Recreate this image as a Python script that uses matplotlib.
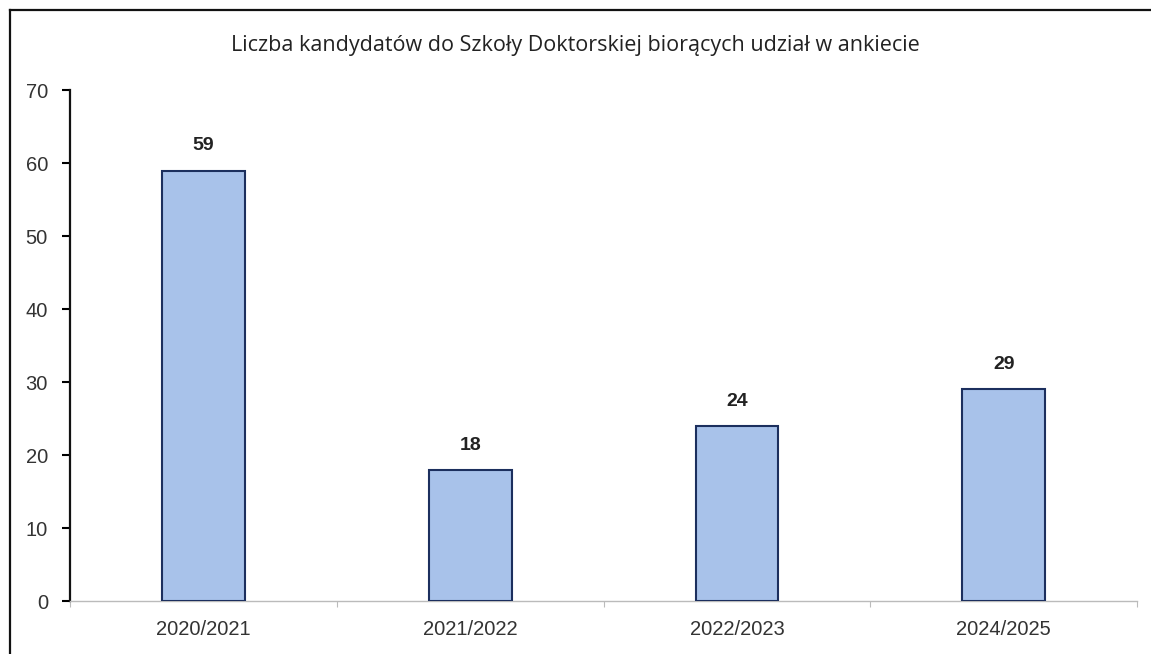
import numpy as np
import matplotlib.pyplot as plt
from matplotlib.lines import Line2D

# dane
lata = ['2020/2021', '2021/2022', '2022/2023', '2024/2025']
liczba = [59, 18, 24, 29]

fig = plt.figure(figsize=(11.51, 6.54), dpi=100)
ax = fig.add_axes([0.061, 0.081, 0.927, 0.781])

x = np.arange(len(lata))
ax.bar(x, liczba, width=0.31, color='#a8c2ea', edgecolor='#1c2f5e', linewidth=1.5, zorder=3)

for xi, v in zip(x, liczba):
    ax.text(xi, v + 2.2, str(v), ha='center', va='bottom', fontsize=14,
            fontweight='bold', family='Liberation Sans', color='#222222')

ax.set_xlim(-0.5, len(lata) - 0.5)
ax.set_ylim(0, 70)
ax.set_yticks(range(0, 71, 10))
ax.set_xticks(x)
ax.set_xticklabels(lata, family='Liberation Sans', fontsize=14.5, color='#333333')
ax.tick_params(axis='x', length=0, pad=14)
ax.tick_params(axis='y', length=6, width=1.5, direction='out', labelsize=14.5, pad=10,
               labelcolor='#333333')
for lbl in ax.get_yticklabels():
    lbl.set_family('Liberation Sans')

# male znaczniki na granicach kategorii
ax.set_xticks(np.arange(-0.5, len(lata), 1), minor=True)
ax.tick_params(axis='x', which='minor', length=4, color='#bbbbbb', width=0.8)

ax.spines['top'].set_visible(False)
ax.spines['right'].set_visible(False)
ax.spines['left'].set_linewidth(1.6)
ax.spines['left'].set_color('#111111')
ax.spines['bottom'].set_color('#bbbbbb')
ax.spines['bottom'].set_linewidth(1.0)
ax.spines['bottom'].set_linestyle((0, (3, 1)))

fig.text(0.5, 0.93, 'Liczba kandydatów do Szkoły Doktorskiej biorących udział w ankiecie',
         ha='center', va='center', fontsize=15.5, family='Open Sans', color='#222222')

# ramka
fig.add_artist(Line2D([10 / 1151, 10 / 1151], [0, 1 - 10 / 654], color='#111111', lw=1.6))
fig.add_artist(Line2D([10 / 1151, 1], [1 - 10 / 654, 1 - 10 / 654], color='#111111', lw=1.6))

fig.savefig('out.png', dpi=100)
